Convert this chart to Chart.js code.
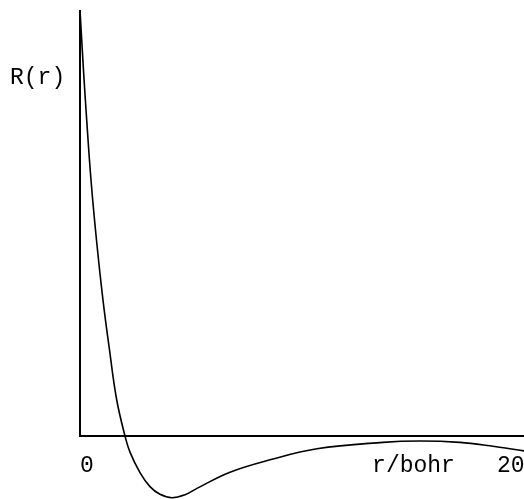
<!DOCTYPE html>
<html>
<head>
<meta charset="utf-8">
<script src="https://cdn.jsdelivr.net/npm/chart.js@4/dist/chart.umd.min.js"></script>
<style>
  html, body { margin: 0; padding: 0; background: #fff; }
  #wrap { width: 524px; height: 499px; position: relative; }
</style>
</head>
<body>
<div id="wrap"><canvas id="radial"></canvas></div>
<script>
// radial function R(r) (arbitrary units, R(0) = 1)
const rValues = [0, 0.158, 0.321, 0.528, 0.791, 1.103, 1.415, 1.76, 2.158, 2.398, 2.878, 3.357, 3.837, 4.412, 5.036, 5.612, 7.194, 9.113, 11.367, 14.532, 16.307, 18.225, 19.664, 21.3];
const RValues = [1.0, 0.866, 0.742, 0.601, 0.460, 0.319, 0.202, 0.085, 0, -0.038, -0.086, -0.119, -0.137, -0.145, -0.138, -0.123, -0.085, -0.056, -0.030, -0.015, -0.012, -0.015, -0.023, -0.035];
const xTicks = [0, 20];
const xTitle = "r/bohr";
const yTitle = "R(r)";

const FONT = '23px "Liberation Mono", "DejaVu Sans Mono", monospace';

// hand-drawn style axes: lines meet at the origin, labels under the x axis
const axesPlugin = {
  id: 'axes',
  afterDatasetsDraw(chart) {
    const { ctx, scales: { x, y }, chartArea } = chart;
    const x0 = x.getPixelForValue(0);
    const y0 = y.getPixelForValue(0);
    ctx.save();
    ctx.strokeStyle = '#000';
    ctx.lineWidth = 2;
    ctx.beginPath();
    ctx.moveTo(x0, y.getPixelForValue(1));
    ctx.lineTo(x0, y0);
    ctx.lineTo(chartArea.right, y0);
    ctx.stroke();

    ctx.fillStyle = '#000';
    ctx.font = FONT;
    ctx.textBaseline = 'middle';
    ctx.textAlign = 'left';
    xTicks.forEach(t => ctx.fillText(String(t), x.getPixelForValue(t), y0 + 30));
    ctx.textAlign = 'right';
    ctx.fillText(xTitle, x.getPixelForValue(xTicks[1]) - 42, y0 + 30);
    ctx.textAlign = 'left';
    ctx.fillText(yTitle, 10, y.getPixelForValue(0.84));
    ctx.restore();
  }
};

new Chart(document.getElementById('radial'), {
  type: 'line',
  data: {
    datasets: [{
      data: rValues.map((r, i) => ({ x: r, y: RValues[i] })),
      borderColor: '#000',
      borderWidth: 1.6,
      pointRadius: 0,
      fill: false,
      tension: 0.4,
      clip: false
    }]
  },
  options: {
    responsive: true,
    maintainAspectRatio: false,
    animation: false,
    layout: { padding: { left: 80, top: 10, right: 0, bottom: 0 } },
    plugins: { legend: { display: false }, tooltip: { enabled: false } },
    scales: {
      x: { type: 'linear', min: 0, max: 21.3, display: false },
      y: { min: -0.148, max: 1.0, display: false }
    }
  },
  plugins: [axesPlugin]
});
</script>
</body>
</html>
